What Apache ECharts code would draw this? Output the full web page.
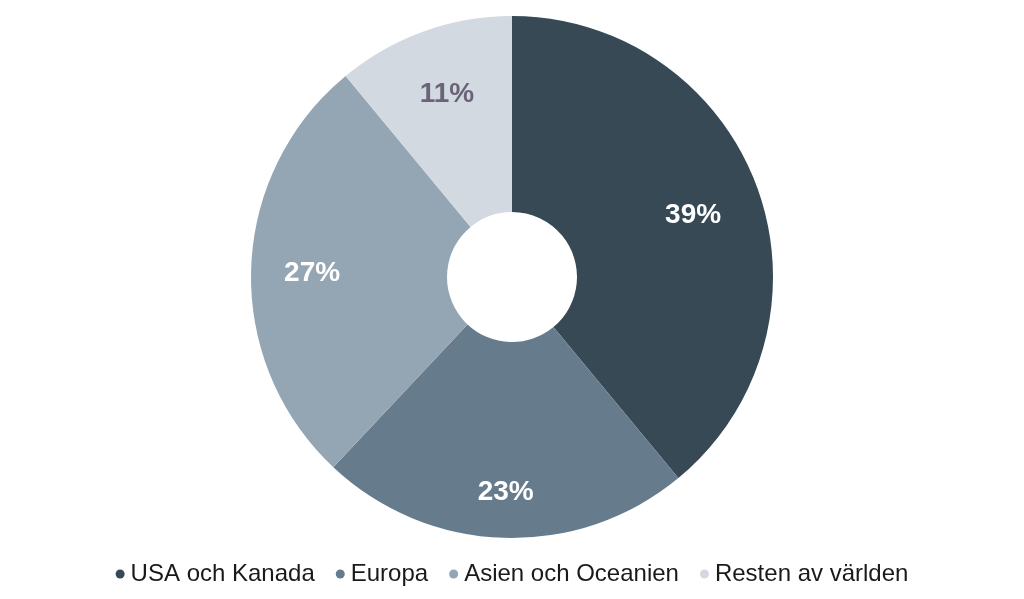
<!DOCTYPE html>
<html><head><meta charset="utf-8">
<script src="https://cdn.jsdelivr.net/npm/echarts@6/dist/echarts.min.js"></script>
<style>html,body{margin:0;padding:0;background:#fff}#c{width:1024px;height:599px}</style>
</head><body><div id="c"></div>
<script>
const categories = ['USA och Kanada', 'Europa', 'Asien och Oceanien', 'Resten av världen'];
const values = [39, 23, 27, 11];
const colors = ['#364955', '#667b8c', '#94a6b4', '#d3d9e1'];
const labelColors = ['#ffffff', '#ffffff', '#ffffff', '#6b6478'];
const labelNudge = [[-8, 6], [0, 14], [1, 3], [3, 6]];

const FONT = "'Liberation Sans', Arial, sans-serif";
const chart = echarts.init(document.getElementById('c'), null, {renderer: 'canvas'});
const center = [512, 277];
chart.setOption({
  animation: false,
  color: colors,
  legend: {
    top: 557,
    left: 'center',
    icon: 'circle',
    itemWidth: 9, itemHeight: 9, itemGap: 21,
    textStyle: {fontFamily: FONT, fontSize: 24, color: '#1a1a1a', padding: [0, 0, 0, 1]},
    data: categories
  },
  series: [{
    type: 'pie',
    center: center,
    radius: [65, 261],
    startAngle: 90,
    clockwise: true,
    label: {show: false},
    labelLine: {show: false},
    itemStyle: {borderWidth: 0},
    emphasis: {disabled: true},
    data: categories.map((n, i) => ({name: n, value: values[i], itemStyle: {color: colors[i]}}))
  }, {
    type: 'pie',
    center: center,
    radius: [186, 210],
    startAngle: 90,
    clockwise: true,
    silent: true,
    legendHoverLink: false,
    itemStyle: {color: 'rgba(0,0,0,0)'},
    emphasis: {disabled: true},
    labelLine: {show: false},
    labelLayout: p => ({dx: labelNudge[p.dataIndex][0], dy: labelNudge[p.dataIndex][1]}),
    data: categories.map((n, i) => ({
      name: n + ' ', value: values[i],
      label: {show: true, position: 'inside', formatter: values[i] + '%',
        color: labelColors[i], fontFamily: FONT, fontWeight: 'bold', fontSize: 28}
    }))
  }]
});
</script></body></html>
